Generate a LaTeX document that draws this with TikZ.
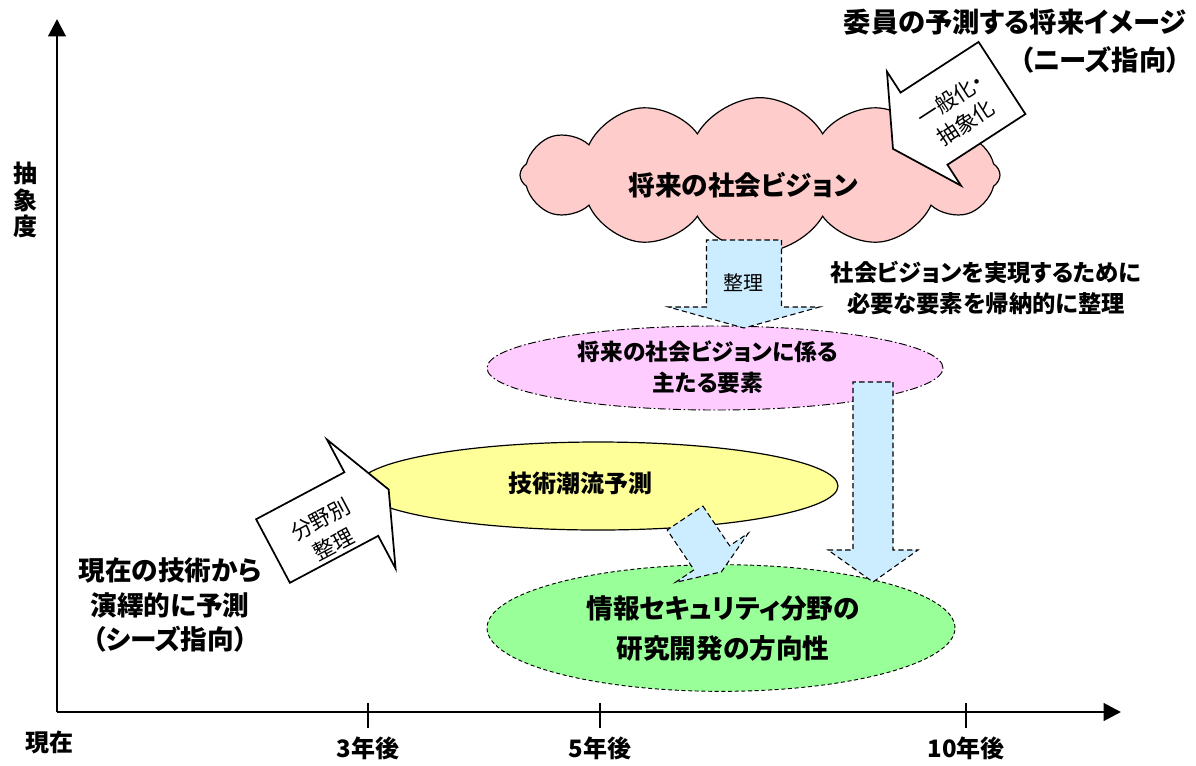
\documentclass[tikz,border=0pt]{standalone}
\usepackage{fontspec}
\setmainfont{Noto Sans CJK JP}[RawFeature=+palt]
\usepackage{tikz}
\usetikzlibrary{shapes.symbols,shapes.geometric,arrows.meta}
\definecolor{cloudpink}{HTML}{FFCCCC}
\definecolor{elempink}{HTML}{FFCCFF}
\definecolor{trendyellow}{HTML}{FFFF99}
\definecolor{resgreen}{HTML}{99FF99}
\definecolor{flowblue}{HTML}{CCECFF}
\tikzset{axis/.style={line width=2.2pt,-{Triangle[length=13pt,width=13pt]}},
	tick/.style={line width=1.8pt},
	txt/.style={font=\bfseries\fontsize{#1}{#1}\selectfont,inner sep=0pt},
	txt/.default=18,
	plain/.style={font=\fontsize{15}{23}\selectfont,inner sep=0pt,align=center},
	whitearrow/.style={draw,fill=white,line width=1.3pt,line join=miter},
	bluearrow/.style={draw,fill=flowblue,line width=0.8pt,dash pattern=on 4pt off 2.5pt}}
% block arrow: style, tail point, angle, body length, body half width, head half width, head length
\newcommand{\blockarrow}[7]{%
	\draw[#1,shift={#2},rotate=#3] (0,-#5) -- (#4,-#5) -- (#4,-#6) -- (#4+#7,0)
		-- (#4,#6) -- (#4,#5) -- (0,#5) -- cycle;}
\begin{document}
\begin{tikzpicture}
	[x=0.75pt,y=-0.75pt]
	\useasboundingbox (0,0) rectangle (1196,765);
	% axes
	\coordinate (origin) at (57,712);
	\coordinate (ytop) at (57,19);
	\coordinate (xend) at (1121,712);
	\draw[axis] (origin) -- (ytop);
	\draw[axis] (origin) -- (xend);
	\foreach \x/\lab in {368/3年後,600/5年後,966/10年後}{
		\draw[tick] (\x,703) -- (\x,728);
		\node[txt] at (\x,748) {\lab};
	}
	\node[txt] (now) at (50,742) {現在};
	\node[txt,align=center,font=\bfseries\fontsize{18}{20}\selectfont] (abst) at (25,200) {抽\\象\\度};
	\node[txt=20.5] (future) at (1015,22) {委員の予測する将来イメージ};
	\node[txt=20.5] (needs) at (1100,60) {（ニーズ指向）};
	% vision cloud
	\node[cloud,cloud puffs=12,cloud puff arc=120,cloud ignores aspect,draw,fill=cloudpink,
		line width=0.9pt,minimum width=360pt,minimum height=116pt] (vision) at (760,175) {};
	\node[txt=20] at (743,185) {将来の社会ビジョン};
	\blockarrow{whitearrow}{(1002,78)}{213}{93}{43}{68}{37}
	\node[plain,font=\fontsize{16}{21}\selectfont,rotate=33] (generalize) at (958,111) {一般化・\\抽象化};
	% elements
	\node[ellipse,draw,fill=elempink,line width=0.7pt,dash pattern=on 6pt off 2pt on 1.2pt off 2pt,
		minimum width=342pt,minimum height=63pt] (elem) at (715,368) {};
	\node[txt=17,align=center,font=\bfseries\fontsize{17}{23}\selectfont] at (708,367) {将来の社会ビジョンに係る\\主たる要素};
	\blockarrow{bluearrow}{(744,240)}{-90}{67}{37.5}{75.5}{21}
	\node[plain] (sort) at (743,283) {整理};
	\node[txt=17,align=center,font=\bfseries\fontsize{17.5}{23}\selectfont] (induct) at (986,288)
		{社会ビジョンを実現するために\\必要な要素を帰納的に整理};
	% technology trend
	\node[ellipse,draw,fill=trendyellow,line width=0.9pt,
		minimum width=360pt,minimum height=66pt] (trend) at (598,486) {};
	\node[txt] at (580,483) {技術潮流予測};
	\blockarrow{whitearrow}{(273,551)}{28}{100}{36}{73}{31}
	\node[plain,font=\fontsize{16}{21}\selectfont,rotate=28] (byfield) at (327,532) {分野別\\整理};
	\node[txt=20,align=center,font=\bfseries\fontsize{20}{26}\selectfont] (seeds) at (170,605)
		{現在の技術から\\演繹的に予測\\（シーズ指向）};
	% result
	\node[ellipse,draw,fill=resgreen,line width=0.7pt,dash pattern=on 3pt off 2pt,
		minimum width=351pt,minimum height=95pt] (result) at (721,628) {};
	\node[txt=20,align=center,font=\bfseries\fontsize{20}{30}\selectfont] at (723,628)
		{情報セキュリティ分野の\\研究開発の方向性};
	\blockarrow{bluearrow}{(873,382)}{-90}{168}{20}{45}{32}
	\blockarrow{bluearrow}{(685,518)}{-56}{48}{21.5}{44}{17}
\end{tikzpicture}
\end{document}
